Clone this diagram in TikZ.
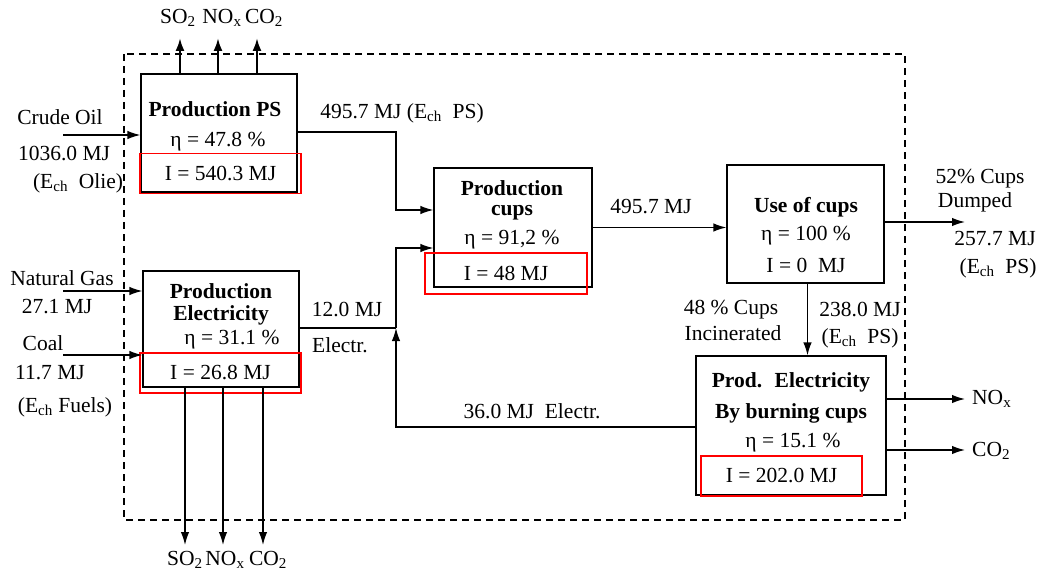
\documentclass[tikz,border=0pt]{standalone}
\usepackage{fontspec}
\setmainfont{Liberation Serif}
\usetikzlibrary{arrows.meta}
\newcommand\mysub[1]{\textsubscript{#1}}
\newcommand\fsz{\fontsize{21.5}{24}\selectfont}
\begin{document}
\begin{tikzpicture}[x=1pt,y=-1pt,
  lbl/.style={inner sep=0pt,font=\fsz},
  ttl/.style={inner sep=0pt,font=\fsz\bfseries},
  blk/.style={draw,line width=1.2pt,inner sep=0pt},
  redbox/.style={draw=red,line width=1.6pt,inner sep=0pt,font=\fsz,minimum width=161pt,minimum height=40pt},
  arr/.style={-{Latex[length=13pt,width=8.5pt]},line width=1.4pt},
  arrb/.style={-{Latex[length=13pt,width=9pt]},line width=2.2pt},
  ln/.style={line width=1.4pt},
  sysb/.style={dashed,dash pattern=on 7pt off 5pt,line width=1.5pt}]
\useasboundingbox (0,0) rectangle (1037,575);
\fill[white] (0,0) rectangle (1037,575);
% system boundary
\draw[sysb] (124,54) rectangle (905,520);
% boxes
\node[blk,minimum width=156pt,minimum height=118pt] (ps) at (219,133) {};
\node[blk,minimum width=156pt,minimum height=116pt] (el) at (221,329) {};
\node[blk,minimum width=158pt,minimum height=119pt] (cups) at (513,227.5) {};
\node[blk,minimum width=157pt,minimum height=118pt] (use) at (805.5,224) {};
\node[blk,minimum width=190pt,minimum height=139pt] (burn) at (791,425.5) {};
% box texts
\node[ttl] (pst) at (215,109) {Production PS};
\node[lbl] (pse) at (218,142) {η = 47.8 \%};
\node[redbox] (psi) at (220.5,173.5) {I = 540.3 MJ};
\node[ttl] (elt1) at (221,291) {Production};
\node[ttl] (elt2) at (221,315) {Electricity};
\node[lbl] (ele) at (232,340) {η = 31.1 \%};
\node[redbox] (eli) at (220.5,373) {I = 26.8 MJ};
\node[ttl] (cut1) at (512,188) {Production};
\node[ttl] (cut2) at (512,213) {cups};
\node[lbl] (cue) at (512,240) {η = 91,2 \%};
\node[redbox,minimum width=162pt,minimum height=41pt] (cui) at (506,273.5) {I = 48 MJ};
\node[ttl] (uset) at (806,207) {Use of cups};
\node[lbl] (usee) at (806,236) {η = 100 \%};
\node[lbl] (usei) at (806,265) {I = 0~ MJ};
\node[ttl] (bt1) at (791,382) {Prod.~ Electricity};
\node[ttl] (bt2) at (791,413) {By burning cups};
\node[lbl] (be) at (793,443) {η = 15.1 \%};
\node[redbox] (bi) at (781.5,476) {I = 202.0 MJ};
% outside labels
\node[lbl] (oil1) at (60,117) {Crude Oil};
\node[lbl] (oil2) at (64,154) {1036.0 MJ};
\node[lbl] (oil3) at (78,183) {(E\mysub{ch}~ Olie)};
\node[lbl] (gas1) at (62,278) {Natural Gas};
\node[lbl] (gas2) at (57,307) {27.1 MJ};
\node[lbl] (coal1) at (43,343) {Coal};
\node[lbl] (coal2) at (50,373) {11.7 MJ};
\node[lbl] (coal3) at (65,407) {(E\mysub{ch} Fuels)};
\node[lbl] (psout) at (402,113) {495.7 MJ (E\mysub{ch}~ PS)};
\node[lbl] (e12a) at (347,310) {12.0 MJ};
\node[lbl] (e12b) at (340,345) {Electr.};
\node[lbl] (e36) at (532,411) {36.0 MJ~ Electr.};
\node[lbl] (c495) at (651,207) {495.7 MJ};
\node[lbl] (dmp1) at (980,179) {52\% Cups};
\node[lbl] (dmp2) at (975,202) {Dumped};
\node[lbl] (dmp3) at (995,239) {257.7 MJ};
\node[lbl] (dmp4) at (998,268) {(E\mysub{ch}~ PS)};
\node[lbl] (inc1) at (731,310) {48 \% Cups};
\node[lbl] (inc2) at (733,333) {Incinerated};
\node[lbl] (inc3) at (860,310) {238.0 MJ};
\node[lbl] (inc4) at (860,338) {(E\mysub{ch}~ PS)};
\node[lbl,anchor=west] (bnox) at (972,399) {NO\mysub{x}};
\node[lbl,anchor=west] (bco2) at (972,451) {CO\mysub{2}};
\node[lbl] (tso) at (178,18) {SO\mysub{2}};
\node[lbl] (tno) at (222,18) {NO\mysub{x}};
\node[lbl] (tco) at (264,18) {CO\mysub{2}};
\node[lbl] (bso) at (185,560) {SO\mysub{2}};
\node[lbl] (bno) at (225,560) {NO\mysub{x}};
\node[lbl] (bco) at (268,560) {CO\mysub{2}};
% coordinates
\coordinate (oilin) at (63,135);
\coordinate (gasin) at (63,291);
\coordinate (coalin) at (63,355);
\coordinate (j1) at (396,132);
\coordinate (j2) at (396,210);
\coordinate (j3) at (396,328);
\coordinate (j4) at (396,427);
\coordinate (j5) at (396,248);
\coordinate (dmpend) at (965,222);
\coordinate (noxend) at (965,399);
\coordinate (co2end) at (965,450);
\coordinate (t1) at (180,38);
\coordinate (t2) at (218,38);
\coordinate (t3) at (257,38);
\coordinate (b1) at (185,545);
\coordinate (b2) at (223,545);
\coordinate (b3) at (263,545);
% connectors
\draw[arr] (oilin) -- (oilin -| ps.west);
\draw[arr] (gasin) -- (gasin -| el.west);
\draw[arr] (coalin) -- (coalin -| el.west);
\draw[arr] (j1 -| ps.east) -- (j1) -- (j2) -- (j2 -| cups.west);
\draw[ln] (j3 -| el.east) -- (j3);
\draw[arr] (j4 -| burn.west) -- (j4) -- (j3);
\draw[arr] (j3) -- (j5) -- (j5 -| cups.west);
\draw[arr] (cups.east) -- (cups.east -| use.west);
\draw[arr] (dmpend -| use.east) -- (dmpend);
\draw[arr] ([xshift=2pt]use.south) -- ([xshift=2pt]use.south |- burn.north);
\draw[arr] (noxend -| burn.east) -- (noxend);
\draw[arr] (co2end -| burn.east) -- (co2end);
\draw[arrb] (t1 |- ps.north) -- (t1);
\draw[arrb] (t2 |- ps.north) -- (t2);
\draw[arrb] (t3 |- ps.north) -- (t3);
\draw[arr] (b1 |- el.south) -- (b1);
\draw[arr] (b2 |- el.south) -- (b2);
\draw[arr] (b3 |- el.south) -- (b3);
\end{tikzpicture}
\end{document}
